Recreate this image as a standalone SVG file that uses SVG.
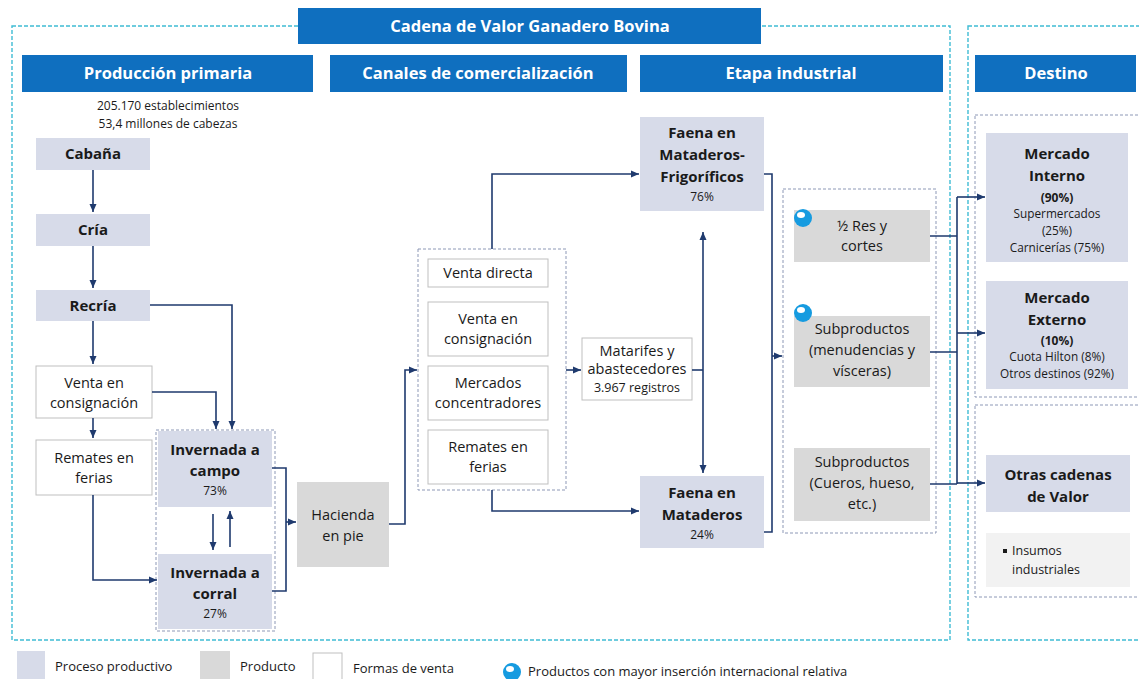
<svg xmlns="http://www.w3.org/2000/svg" width="1139" height="679" viewBox="0 0 1139 679">
<defs>
<style>
text{font-family:"Open Sans","Liberation Sans",sans-serif;fill:#1a1a1a;text-anchor:middle}
.hdr{fill:#0f6fbf}
.ht{fill:#fff;font-weight:bold;font-size:16.5px}
.proc{fill:#d7dbe9}
.prod{fill:#d9d9d9}
.sale{fill:#fff;stroke:#bfbfbf;stroke-width:1}
.b{font-weight:bold;font-size:15px}
.r{font-size:14.5px}
.s{font-size:12.5px}
.p{font-size:12px}
.m{font-size:11.8px}
.l{font-size:13px;text-anchor:start}
.teal{fill:none;stroke:#3fbcd4;stroke-width:1.4;stroke-dasharray:4 2}
.grp{fill:none;stroke:#8d98b6;stroke-width:1;stroke-dasharray:3 2}
.c{fill:none;stroke:#1f3a6e;stroke-width:1.6}
.a{marker-end:url(#ar)}
</style>
<marker id="ar" markerUnits="userSpaceOnUse" markerWidth="8" markerHeight="8" refX="8" refY="4" orient="auto-start-reverse"><path d="M0,0.5 L8,4 L0,7.5 z" fill="#1f3a6e"/></marker>
<g id="bubble"><circle r="9" fill="#169be0"/><ellipse cx="-2" cy="-3" rx="4" ry="3" fill="#fff"/></g>
</defs>
<rect width="1139" height="679" fill="#fff"/>
<g id="frames">
<rect class="teal" x="12" y="26" width="938" height="614"/>
<rect class="teal" x="968" y="26" width="180" height="614"/>
<rect class="grp" x="975" y="115" width="170" height="282"/>
<rect class="grp" x="975" y="405" width="170" height="192"/>
<rect class="grp" x="156" y="430" width="119" height="201"/>
<rect class="grp" x="418" y="249" width="148" height="241"/>
<rect class="grp" x="783" y="189" width="153" height="344"/>
</g>
<g id="title"><rect class="hdr" x="298" y="8" width="463" height="36"/><text class="ht" x="530" y="32">Cadena de Valor Ganadero Bovina</text></g>
<g id="headers">
<rect class="hdr" x="22" y="55" width="291" height="37"/><text class="ht" x="168" y="79">Producción primaria</text>
<rect class="hdr" x="330" y="55" width="297" height="37"/><text class="ht" x="478" y="79">Canales de comercialización</text>
<rect class="hdr" x="640" y="55" width="303" height="37"/><text class="ht" x="791" y="79">Etapa industrial</text>
<rect class="hdr" x="975" y="55" width="161" height="37"/><text class="ht" x="1056" y="79">Destino</text>
</g>
<g id="stats"><text class="p" x="168" y="110">205.170 establecimientos</text><text class="p" x="168" y="128">53,4 millones de cabezas</text></g>
<g id="cabana"><rect class="proc" x="36" y="138" width="114" height="32"/><text class="b" x="93" y="159">Cabaña</text></g>
<g id="cria"><rect class="proc" x="36" y="214" width="114" height="32"/><text class="b" x="93" y="235">Cría</text></g>
<g id="recria"><rect class="proc" x="36" y="290" width="114" height="31"/><text class="b" x="93" y="311">Recría</text></g>
<g id="venta1"><rect class="sale" x="36" y="366" width="116" height="52"/><text class="r" x="94" y="388">Venta en</text><text class="r" x="94" y="408">consignación</text></g>
<g id="remates1"><rect class="sale" x="36" y="440" width="116" height="55"/><text class="r" x="94" y="463">Remates en</text><text class="r" x="94" y="483">ferias</text></g>
<g id="campo"><rect class="proc" x="158" y="431" width="114" height="76"/><text class="b" x="215" y="455">Invernada a</text><text class="b" x="215" y="476">campo</text><text class="p" x="215" y="495">73%</text></g>
<g id="corral"><rect class="proc" x="158" y="554" width="114" height="75"/><text class="b" x="215" y="578">Invernada a</text><text class="b" x="215" y="599">corral</text><text class="p" x="215" y="618">27%</text></g>
<g id="hacienda"><rect class="prod" x="297" y="482" width="92" height="85"/><text class="r" x="343" y="520">Hacienda</text><text class="r" x="343" y="541">en pie</text></g>
<g id="vdirecta"><rect class="sale" x="428" y="259" width="120" height="28"/><text class="r" x="488" y="278">Venta directa</text></g>
<g id="vconsig"><rect class="sale" x="428" y="302" width="120" height="54"/><text class="r" x="488" y="324">Venta en</text><text class="r" x="488" y="344">consignación</text></g>
<g id="mercados"><rect class="sale" x="428" y="366" width="120" height="54"/><text class="r" x="488" y="388">Mercados</text><text class="r" x="488" y="408">concentradores</text></g>
<g id="remates2"><rect class="sale" x="428" y="430" width="120" height="54"/><text class="r" x="488" y="452">Remates en</text><text class="r" x="488" y="472">ferias</text></g>
<g id="matarifes"><rect class="sale" x="582" y="338" width="110" height="62"/><text class="r" x="637" y="356">Matarifes y</text><text class="r" x="637" y="374">abastecedores</text><text class="s" x="637" y="392">3.967 registros</text></g>
<g id="frigorificos"><rect class="proc" x="640" y="117" width="124" height="94"/><text class="b" x="702" y="138">Faena en</text><text class="b" x="702" y="160">Mataderos-</text><text class="b" x="702" y="182">Frigoríficos</text><text class="p" x="702" y="201">76%</text></g>
<g id="mataderos"><rect class="proc" x="640" y="476" width="124" height="72"/><text class="b" x="702" y="498">Faena en</text><text class="b" x="702" y="520">Mataderos</text><text class="p" x="702" y="539">24%</text></g>
<g id="res"><rect class="prod" x="794" y="210" width="136" height="52"/><text class="r" x="862" y="231">½ Res y</text><text class="r" x="862" y="251">cortes</text><use href="#bubble" x="803" y="218"/></g>
<g id="menudencias"><rect class="prod" x="794" y="316" width="136" height="71"/><text class="r" x="862" y="334">Subproductos</text><text class="r" x="862" y="355">(menudencias y</text><text class="r" x="862" y="376">vísceras)</text><use href="#bubble" x="803" y="313"/></g>
<g id="cueros"><rect class="prod" x="794" y="448" width="136" height="73"/><text class="r" x="862" y="467">Subproductos</text><text class="r" x="862" y="488">(Cueros, hueso,</text><text class="r" x="862" y="509">etc.)</text></g>
<g id="interno"><rect class="proc" x="986" y="133" width="142" height="129"/><text class="b" x="1057" y="159">Mercado</text><text class="b" x="1057" y="181">Interno</text><text class="p" style="font-weight:bold" x="1057" y="202">(90%)</text><text class="m" x="1057" y="218">Supermercados</text><text class="m" x="1057" y="235">(25%)</text><text class="m" x="1057" y="252">Carnicerías (75%)</text></g>
<g id="externo"><rect class="proc" x="986" y="281" width="142" height="108"/><text class="b" x="1057" y="303">Mercado</text><text class="b" x="1057" y="325">Externo</text><text class="p" style="font-weight:bold" x="1057" y="345">(10%)</text><text class="m" x="1057" y="361">Cuota Hilton (8%)</text><text class="m" x="1057" y="378">Otros destinos (92%)</text></g>
<g id="otras"><rect class="proc" x="986" y="455" width="144" height="57"/><text class="b" x="1058" y="480">Otras cadenas</text><text class="b" x="1058" y="502">de Valor</text></g>
<g id="insumos"><rect x="986" y="533" width="144" height="54" fill="#f2f2f2"/><rect x="1003" y="549" width="4" height="4" fill="#1a1a1a"/><text class="l" style="font-size:12.5px" x="1012" y="555">Insumos</text><text class="l" style="font-size:12.5px" x="1012" y="574">industriales</text></g>
<g id="connectors">
<path class="c a" d="M93,170 V212"/>
<path class="c a" d="M93,246 V288"/>
<path class="c a" d="M93,321 V364"/>
<path class="c a" d="M93,418 V438"/>
<path class="c a" d="M150,305 H232 V429"/>
<path class="c a" d="M152,392 H216 V429"/>
<path class="c a" d="M93,495 V580 H157"/>
<path class="c a" d="M213,514 V550"/>
<path class="c a" d="M230,547 V511"/>
<path class="c" d="M272,468 H286 V591 H272"/>
<path class="c a" d="M286,522 H296"/>
<path class="c a" d="M389,524 H405 V370 H417"/>
<path class="c a" d="M492,249 V174 H639"/>
<path class="c a" d="M492,490 V511 H639"/>
<path class="c a" d="M566,370 H581"/>
<path class="c" d="M692,370 H703"/>
<path class="c" d="M703,232 V473" style="marker-start:url(#ar);marker-end:url(#ar)"/>
<path class="c" d="M764,174 H772 V532 H764"/>
<path class="c a" d="M772,356 H782"/>
<path class="c" d="M930,236 H957 M930,352 H957 M930,484 H957 M957,197 V484"/>
<path class="c a" d="M957,197 H985"/>
<path class="c a" d="M957,333 H985"/>
<path class="c a" d="M957,483 H985"/>
</g>
<g id="legend">
<rect class="proc" x="17" y="651" width="28" height="28"/><text class="l" x="55" y="671">Proceso productivo</text>
<rect class="prod" x="200" y="651" width="30" height="28"/><text class="l" x="240" y="671">Producto</text>
<rect class="sale" x="313" y="653" width="29" height="27"/><text class="l" x="353" y="673">Formas de venta</text>
<use href="#bubble" x="512" y="672"/><text class="l" x="528" y="676">Productos con mayor inserción internacional relativa</text>
</g>
</svg>
